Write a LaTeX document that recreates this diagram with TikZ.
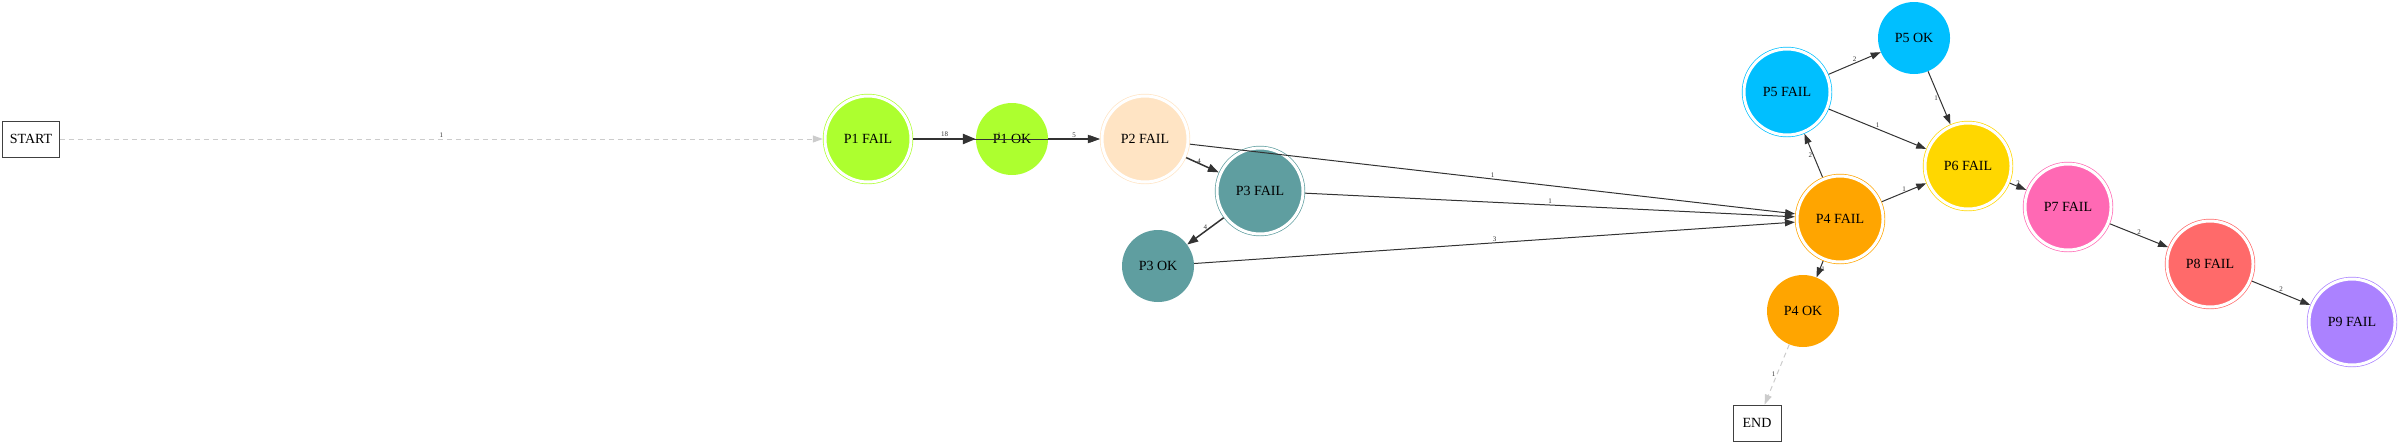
\documentclass[tikz,border=0pt]{standalone}
\usepackage{fontspec}
\setmainfont{Liberation Serif}
\usepackage{tikz}
\usetikzlibrary{arrows.meta}

\definecolor{pone}{HTML}{ADFF2F}
\definecolor{ptwo}{HTML}{FFE4C4}
\definecolor{pthree}{HTML}{5F9EA0}
\definecolor{pfour}{HTML}{FFA500}
\definecolor{pfive}{HTML}{00BFFF}
\definecolor{psix}{HTML}{FFD700}
\definecolor{pseven}{HTML}{FF69B4}
\definecolor{peight}{HTML}{FF6A6A}
\definecolor{pnine}{HTML}{AB82FF}

\begin{document}
\begin{tikzpicture}[x=1pt, y=-1pt,
    every node/.style={font=\fontsize{14}{16}\selectfont},
    fail/.style={circle, fill=#1, draw=#1, double=white, double distance=3pt, line width=0.7pt, minimum size=86pt, inner sep=0pt, outer sep=2.2pt},
    ok/.style={circle, fill=#1, minimum size=72pt, inner sep=0pt},
    term/.style={rectangle, draw=black!75, line width=0.8pt, minimum height=36pt, inner sep=2pt},
    edge/.style={draw=black!80, line width=1pt, -{Triangle[length=10pt, width=7pt]}},
    ghost/.style={draw=black!20, line width=1pt, dash pattern=on 5pt off 4pt, -{Triangle[length=10pt, width=7pt]}},
    lbl/.style={font=\fontsize{7}{8}\selectfont, text=black!80, inner sep=1pt}]
        \useasboundingbox (0, 0) rectangle (2400, 445);
        % Start and end
        \node [term, minimum width=57pt] (start) at (31, 139) {START};
        \node [term, minimum width=48pt] (end) at (1757, 423) {END};
        % States
        \node [fail=pone] (p1f) at (868, 139) {P1 FAIL};
        \node [ok=pone] (p1o) at (1012, 139) {P1 OK};
        \node [fail=ptwo] (p2f) at (1145, 139) {P2 FAIL};
        \node [fail=pthree] (p3f) at (1260, 191) {P3 FAIL};
        \node [ok=pthree] (p3o) at (1158, 266) {P3 OK};
        \node [fail=pfour] (p4f) at (1840, 219) {P4 FAIL};
        \node [ok=pfour] (p4o) at (1803, 311) {P4 OK};
        \node [fail=pfive] (p5f) at (1787, 92) {P5 FAIL};
        \node [ok=pfive] (p5o) at (1914, 38) {P5 OK};
        \node [fail=psix] (p6f) at (1968, 166) {P6 FAIL};
        \node [fail=pseven] (p7f) at (2068, 207) {P7 FAIL};
        \node [fail=peight] (p8f) at (2210, 264) {P8 FAIL};
        \node [fail=pnine] (p9f) at (2352, 322) {P9 FAIL};
        % Transitions
        \draw [ghost] (start) -- node [lbl, above] {1} (p1f);
        \draw [edge, line width=2.5pt, -{Triangle[length=13pt, width=10pt]}] (p1f) -- node [lbl, above] {18} (p1o);
        \draw [edge] (p1f) -- node [lbl, above, pos=0.46] {1} (p2f);
        \draw [edge, line width=1.8pt, -{Triangle[length=12pt, width=8pt]}] (p1o) -- node [lbl, above] {5} (p2f);
        \draw [edge, line width=1.5pt, -{Triangle[length=11pt, width=8pt]}] (p2f) -- node [lbl, above left] {4} (p3f);
        \draw [edge, line width=1.5pt, -{Triangle[length=11pt, width=8pt]}] (p3f) -- node [lbl, above] {4} (p3o);
        \draw [edge] (p2f) -- node [lbl, above] {1} (p4f);
        \draw [edge] (p3f) -- node [lbl, above] {1} (p4f);
        \draw [edge] (p3o) -- node [lbl, above] {3} (p4f);
        \draw [edge] (p4f) -- node [lbl, left] {2} (p5f);
        \draw [edge] (p4f) -- node [lbl, above] {1} (p6f);
        \draw [edge] (p4f) -- node [lbl, right] {1} (p4o);
        \draw [edge] (p5f) -- node [lbl, above] {2} (p5o);
        \draw [edge] (p5f) -- node [lbl, above] {1} (p6f);
        \draw [edge] (p5o) -- node [lbl, left] {1} (p6f);
        \draw [edge] (p6f) -- node [lbl, above] {2} (p7f);
        \draw [edge] (p7f) -- node [lbl, above] {2} (p8f);
        \draw [edge] (p8f) -- node [lbl, above] {2} (p9f);
        \draw [ghost] (p4o) -- node [lbl, left] {1} (end);
    \end{tikzpicture}
\end{document}
